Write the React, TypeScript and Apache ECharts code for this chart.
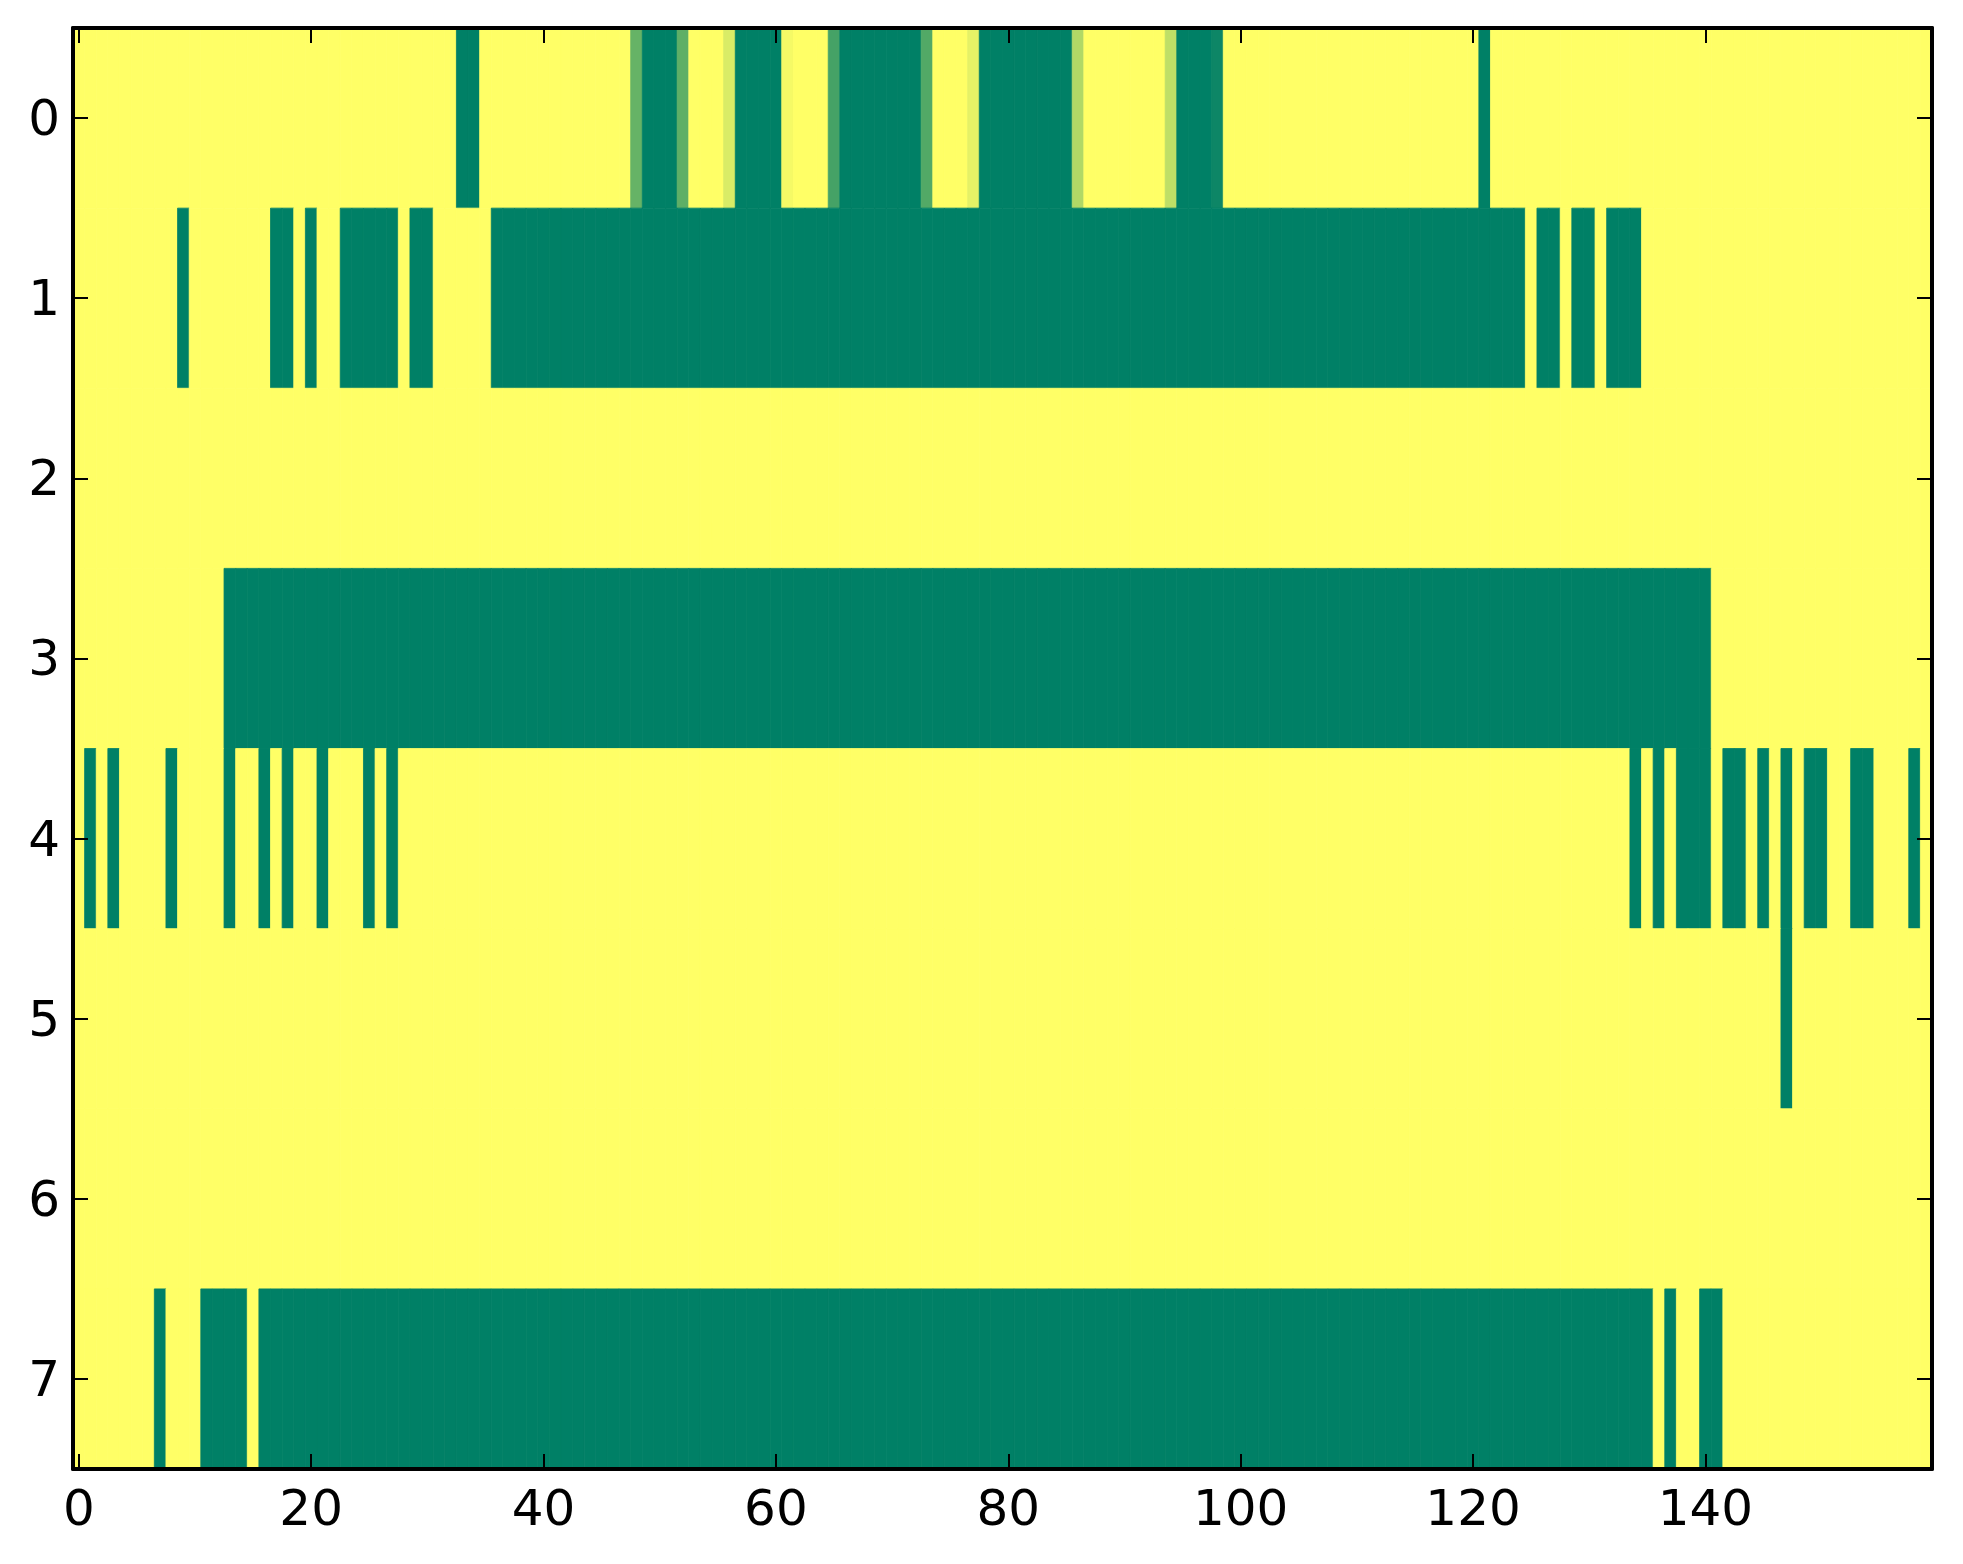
import React, { useEffect, useRef } from "react";
import * as echarts from "echarts";

// Values: 1 = yellow end of the "summer" colormap, 0 = green end.
const row0 = [
  1, 1, 1, 1, 1, 1, 1, 1, 1, 1, 1, 1, 1, 1, 1, 1, 1, 1, 1, 1,
  1, 1, 1, 1, 1, 1, 1, 1, 1, 1, 1, 1, 1, 0, 0, 1, 1, 1, 1, 1,
  1, 1, 1, 1, 1, 1, 1, 1, 0.4, 0, 0, 0, 0.37, 1, 1, 1, 0.85, 0, 0, 0,
  0, 0.96, 1, 1, 1, 0.27, 0, 0, 0, 0, 0, 0, 0, 0.32, 1, 1, 1, 0.9, 0, 0,
  0, 0, 0, 0, 0, 0, 0.69, 1, 1, 1, 1, 1, 1, 1, 0.75, 0, 0, 0, 0.05, 1,
  1, 1, 1, 1, 1, 1, 1, 1, 1, 1, 1, 1, 1, 1, 1, 1, 1, 1, 1, 1,
  1, 0, 1, 1, 1, 1, 1, 1, 1, 1, 1, 1, 1, 1, 1, 1, 1, 1, 1, 1,
  1, 1, 1, 1, 1, 1, 1, 1, 1, 1, 1, 1, 1, 1, 1, 1, 1, 1, 1, 1,
];
const row1 = [
  1, 1, 1, 1, 1, 1, 1, 1, 1, 0, 1, 1, 1, 1, 1, 1, 1, 0, 0, 1,
  0, 1, 1, 0, 0, 0, 0, 0, 1, 0, 0, 1, 1, 1, 1, 1, 0, 0, 0, 0,
  0, 0, 0, 0, 0, 0, 0, 0, 0, 0, 0, 0, 0, 0, 0, 0, 0, 0, 0, 0,
  0, 0, 0, 0, 0, 0, 0, 0, 0, 0, 0, 0, 0, 0, 0, 0, 0, 0, 0, 0,
  0, 0, 0, 0, 0, 0, 0, 0, 0, 0, 0, 0, 0, 0, 0, 0, 0, 0, 0, 0,
  0, 0, 0, 0, 0, 0, 0, 0, 0, 0, 0, 0, 0, 0, 0, 0, 0, 0, 0, 0,
  0, 0, 0, 0, 0, 1, 0, 0, 1, 0, 0, 1, 0, 0, 0, 1, 1, 1, 1, 1,
  1, 1, 1, 1, 1, 1, 1, 1, 1, 1, 1, 1, 1, 1, 1, 1, 1, 1, 1, 1,
];
const row2 = [
  1, 1, 1, 1, 1, 1, 1, 1, 1, 1, 1, 1, 1, 1, 1, 1, 1, 1, 1, 1,
  1, 1, 1, 1, 1, 1, 1, 1, 1, 1, 1, 1, 1, 1, 1, 1, 1, 1, 1, 1,
  1, 1, 1, 1, 1, 1, 1, 1, 1, 1, 1, 1, 1, 1, 1, 1, 1, 1, 1, 1,
  1, 1, 1, 1, 1, 1, 1, 1, 1, 1, 1, 1, 1, 1, 1, 1, 1, 1, 1, 1,
  1, 1, 1, 1, 1, 1, 1, 1, 1, 1, 1, 1, 1, 1, 1, 1, 1, 1, 1, 1,
  1, 1, 1, 1, 1, 1, 1, 1, 1, 1, 1, 1, 1, 1, 1, 1, 1, 1, 1, 1,
  1, 1, 1, 1, 1, 1, 1, 1, 1, 1, 1, 1, 1, 1, 1, 1, 1, 1, 1, 1,
  1, 1, 1, 1, 1, 1, 1, 1, 1, 1, 1, 1, 1, 1, 1, 1, 1, 1, 1, 1,
];
const row3 = [
  1, 1, 1, 1, 1, 1, 1, 1, 1, 1, 1, 1, 1, 0, 0, 0, 0, 0, 0, 0,
  0, 0, 0, 0, 0, 0, 0, 0, 0, 0, 0, 0, 0, 0, 0, 0, 0, 0, 0, 0,
  0, 0, 0, 0, 0, 0, 0, 0, 0, 0, 0, 0, 0, 0, 0, 0, 0, 0, 0, 0,
  0, 0, 0, 0, 0, 0, 0, 0, 0, 0, 0, 0, 0, 0, 0, 0, 0, 0, 0, 0,
  0, 0, 0, 0, 0, 0, 0, 0, 0, 0, 0, 0, 0, 0, 0, 0, 0, 0, 0, 0,
  0, 0, 0, 0, 0, 0, 0, 0, 0, 0, 0, 0, 0, 0, 0, 0, 0, 0, 0, 0,
  0, 0, 0, 0, 0, 0, 0, 0, 0, 0, 0, 0, 0, 0, 0, 0, 0, 0, 0, 0,
  0, 1, 1, 1, 1, 1, 1, 1, 1, 1, 1, 1, 1, 1, 1, 1, 1, 1, 1, 1,
];
const row4 = [
  1, 0, 1, 0, 1, 1, 1, 1, 0, 1, 1, 1, 1, 0, 1, 1, 0, 1, 0, 1,
  1, 0, 1, 1, 1, 0, 1, 0, 1, 1, 1, 1, 1, 1, 1, 1, 1, 1, 1, 1,
  1, 1, 1, 1, 1, 1, 1, 1, 1, 1, 1, 1, 1, 1, 1, 1, 1, 1, 1, 1,
  1, 1, 1, 1, 1, 1, 1, 1, 1, 1, 1, 1, 1, 1, 1, 1, 1, 1, 1, 1,
  1, 1, 1, 1, 1, 1, 1, 1, 1, 1, 1, 1, 1, 1, 1, 1, 1, 1, 1, 1,
  1, 1, 1, 1, 1, 1, 1, 1, 1, 1, 1, 1, 1, 1, 1, 1, 1, 1, 1, 1,
  1, 1, 1, 1, 1, 1, 1, 1, 1, 1, 1, 1, 1, 1, 0, 1, 0, 1, 0, 0,
  0, 1, 0, 0, 1, 0, 1, 0, 1, 0, 0, 1, 1, 0, 0, 1, 1, 1, 0, 1,
];
const row5 = [
  1, 1, 1, 1, 1, 1, 1, 1, 1, 1, 1, 1, 1, 1, 1, 1, 1, 1, 1, 1,
  1, 1, 1, 1, 1, 1, 1, 1, 1, 1, 1, 1, 1, 1, 1, 1, 1, 1, 1, 1,
  1, 1, 1, 1, 1, 1, 1, 1, 1, 1, 1, 1, 1, 1, 1, 1, 1, 1, 1, 1,
  1, 1, 1, 1, 1, 1, 1, 1, 1, 1, 1, 1, 1, 1, 1, 1, 1, 1, 1, 1,
  1, 1, 1, 1, 1, 1, 1, 1, 1, 1, 1, 1, 1, 1, 1, 1, 1, 1, 1, 1,
  1, 1, 1, 1, 1, 1, 1, 1, 1, 1, 1, 1, 1, 1, 1, 1, 1, 1, 1, 1,
  1, 1, 1, 1, 1, 1, 1, 1, 1, 1, 1, 1, 1, 1, 1, 1, 1, 1, 1, 1,
  1, 1, 1, 1, 1, 1, 1, 0, 1, 1, 1, 1, 1, 1, 1, 1, 1, 1, 1, 1,
];
const row6 = [
  1, 1, 1, 1, 1, 1, 1, 1, 1, 1, 1, 1, 1, 1, 1, 1, 1, 1, 1, 1,
  1, 1, 1, 1, 1, 1, 1, 1, 1, 1, 1, 1, 1, 1, 1, 1, 1, 1, 1, 1,
  1, 1, 1, 1, 1, 1, 1, 1, 1, 1, 1, 1, 1, 1, 1, 1, 1, 1, 1, 1,
  1, 1, 1, 1, 1, 1, 1, 1, 1, 1, 1, 1, 1, 1, 1, 1, 1, 1, 1, 1,
  1, 1, 1, 1, 1, 1, 1, 1, 1, 1, 1, 1, 1, 1, 1, 1, 1, 1, 1, 1,
  1, 1, 1, 1, 1, 1, 1, 1, 1, 1, 1, 1, 1, 1, 1, 1, 1, 1, 1, 1,
  1, 1, 1, 1, 1, 1, 1, 1, 1, 1, 1, 1, 1, 1, 1, 1, 1, 1, 1, 1,
  1, 1, 1, 1, 1, 1, 1, 1, 1, 1, 1, 1, 1, 1, 1, 1, 1, 1, 1, 1,
];
const row7 = [
  1, 1, 1, 1, 1, 1, 1, 0, 1, 1, 1, 0, 0, 0, 0, 1, 0, 0, 0, 0,
  0, 0, 0, 0, 0, 0, 0, 0, 0, 0, 0, 0, 0, 0, 0, 0, 0, 0, 0, 0,
  0, 0, 0, 0, 0, 0, 0, 0, 0, 0, 0, 0, 0, 0, 0, 0, 0, 0, 0, 0,
  0, 0, 0, 0, 0, 0, 0, 0, 0, 0, 0, 0, 0, 0, 0, 0, 0, 0, 0, 0,
  0, 0, 0, 0, 0, 0, 0, 0, 0, 0, 0, 0, 0, 0, 0, 0, 0, 0, 0, 0,
  0, 0, 0, 0, 0, 0, 0, 0, 0, 0, 0, 0, 0, 0, 0, 0, 0, 0, 0, 0,
  0, 0, 0, 0, 0, 0, 0, 0, 0, 0, 0, 0, 0, 0, 0, 0, 1, 0, 1, 1,
  0, 0, 1, 1, 1, 1, 1, 1, 1, 1, 1, 1, 1, 1, 1, 1, 1, 1, 1, 1,
];

const rows = [row0, row1, row2, row3, row4, row5, row6, row7];
const rowLabels = ["0", "1", "2", "3", "4", "5", "6", "7"];
const xTickLabels = ["0", "20", "40", "60", "80", "100", "120", "140"];
const colLabels = row0.map((_, i) => String(i));

const FONT = "'DejaVu Sans', sans-serif";

export default function App() {
  const ref = useRef<HTMLDivElement>(null);

  useEffect(() => {
    if (!ref.current) return;
    const chart = echarts.init(ref.current, undefined, { renderer: "svg" });

    const data: number[][] = [];
    rows.forEach((r, y) => r.forEach((v, x) => data.push([x, y, v])));

    const showX = (i: number) => xTickLabels.includes(String(i));

    const axisLine = { show: true, onZero: false, lineStyle: { color: "#000", width: 4 } };
    const tickStyle = { color: "#000", width: 2 };
    const labelStyle = { color: "#000", fontFamily: FONT, fontSize: 50 };

    chart.setOption({
      animation: false,
      backgroundColor: "#ffffff",
      grid: { left: 73, top: 28, width: 1859, height: 1441, containLabel: false },
      visualMap: {
        type: "continuous",
        show: false,
        min: 0,
        max: 1,
        dimension: 2,
        seriesIndex: 0,
        inRange: { color: ["#008066", "#ffff66"] },
      },
      xAxis: [
        {
          type: "category",
          data: colLabels,
          position: "bottom",
          z: 10,
          axisLine,
          axisTick: { show: true, inside: true, length: 15, alignWithLabel: true, interval: showX, lineStyle: tickStyle },
          axisLabel: { ...labelStyle, margin: 14, interval: showX },
          splitLine: { show: false },
        },
        {
          type: "category",
          data: colLabels,
          position: "top",
          z: 10,
          axisLine,
          axisTick: { show: true, inside: true, length: 15, alignWithLabel: true, interval: showX, lineStyle: tickStyle },
          axisLabel: { show: false },
          splitLine: { show: false },
        },
      ],
      yAxis: [
        {
          type: "category",
          data: rowLabels,
          inverse: true,
          position: "left",
          z: 10,
          axisLine,
          axisTick: { show: true, inside: true, length: 15, alignWithLabel: true, lineStyle: tickStyle },
          axisLabel: { ...labelStyle, margin: 13, interval: 0 },
          splitLine: { show: false },
        },
        {
          type: "category",
          data: rowLabels,
          inverse: true,
          position: "right",
          z: 10,
          axisLine,
          axisTick: { show: true, inside: true, length: 15, alignWithLabel: true, lineStyle: tickStyle },
          axisLabel: { show: false },
          splitLine: { show: false },
        },
      ],
      series: [
        {
          type: "custom",
          xAxisIndex: 0,
          yAxisIndex: 0,
          data,
          encode: { x: 0, y: 1 },
          silent: true,
          clip: true,
          renderItem: (params: any, api: any) => {
            const c = api.coord([api.value(0), api.value(1)]);
            const s = api.size([1, 1]);
            const color = api.visual("color");
            return {
              type: "rect",
              shape: { x: c[0] - s[0] / 2, y: c[1] - s[1] / 2, width: s[0], height: s[1] },
              style: { fill: color, stroke: color, lineWidth: 0.8 },
            };
          },
        },
      ],
    });

    return () => chart.dispose();
  }, []);

  return (
    <div
      ref={ref}
      style={{ position: "fixed", left: 0, top: 0, width: 1963, height: 1564, background: "#fff" }}
    />
  );
}
